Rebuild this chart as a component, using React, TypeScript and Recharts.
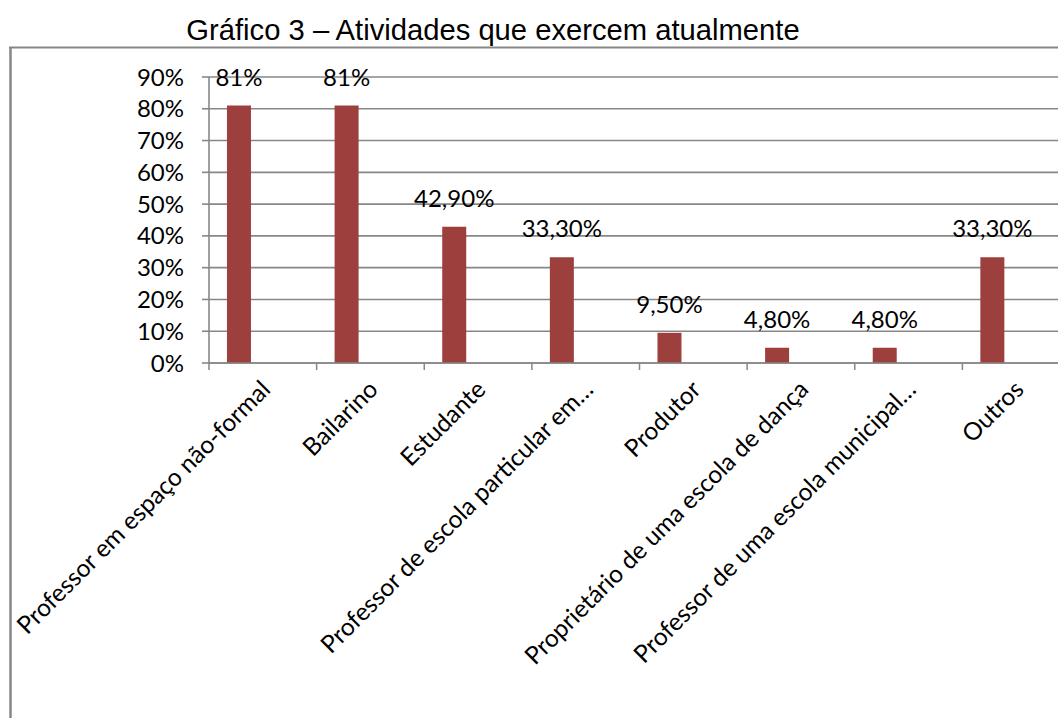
import React from 'react';
import { Bar, BarChart, CartesianGrid, LabelList, XAxis, YAxis } from 'recharts';

const categories = [
  'Professor em espaço não-formal',
  'Bailarino',
  'Estudante',
  'Professor de escola particular em…',
  'Produtor',
  'Proprietário de uma escola de dança',
  'Professor de uma escola municipal…',
  'Outros',
];
const values = [81, 81, 42.9, 33.3, 9.5, 4.8, 4.8, 33.3];
const valueLabels = ['81%', '81%', '42,90%', '33,30%', '9,50%', '4,80%', '4,80%', '33,30%'];
const yTicks = [0, 10, 20, 30, 40, 50, 60, 70, 80, 90];
const title = 'Gráfico 3 – Atividades que exercem atualmente';

const data = categories.map((name, i) => ({ name, value: values[i], label: valueLabels[i] }));

const W = 1100;
const H = 718;
const margin = { top: 77, right: 30, bottom: 55, left: 149 };
const yWidth = 60;
const bandW = (W - margin.left - yWidth - margin.right) / categories.length;

const grey = '#878787';
const barColor = '#9d3f3c';
const labelFont = 'Lato, "Open Sans", sans-serif';

const CategoryTick = (props: any) => {
  const { x, y, payload } = props;
  const ax = x + 9;
  const ay = y + 28;
  return (
    <g>
      <line x1={x - bandW / 2} x2={x - bandW / 2} y1={y} y2={y + 7} stroke={grey} strokeWidth={1.5} />
      <text
        x={ax}
        y={ay}
        textAnchor="end"
        transform={`rotate(-45 ${ax} ${ay})`}
        fontSize={24.5}
        fontFamily={labelFont}
        fill="#000"
      >
        {payload.value}
      </text>
    </g>
  );
};

export default function App() {
  return (
    <div style={{ position: 'fixed', left: 0, top: 0, width: 1058, height: 718, overflow: 'hidden', background: '#fff' }}>
      <BarChart width={W} height={H} data={data} margin={margin} barCategoryGap="16.7%" barGap={0}>
        <CartesianGrid vertical={false} stroke={grey} strokeWidth={1.6} />
        <XAxis
          dataKey="name"
          height={300}
          interval={0}
          tickLine={false}
          tickSize={0}
          tickMargin={0}
          axisLine={{ stroke: grey, strokeWidth: 1.6 }}
          tick={<CategoryTick />}
        />
        <YAxis
          domain={[0, 90]}
          ticks={yTicks}
          interval={0}
          width={yWidth}
          tickSize={7}
          tickMargin={18}
          tickFormatter={(v: number) => `${v}%`}
          axisLine={{ stroke: grey, strokeWidth: 1.6 }}
          tickLine={{ stroke: grey, strokeWidth: 1.6 }}
          tick={{ fill: '#000', fontSize: 24, fontFamily: labelFont }}
        />
        <Bar dataKey="value" fill={barColor} isAnimationActive={false}>
          <LabelList dataKey="label" position="top" offset={20} fill="#000" fontSize={24} fontFamily={labelFont} />
        </Bar>
        <Bar dataKey="blank1" fill={barColor} isAnimationActive={false} />
        <Bar dataKey="blank2" fill={barColor} isAnimationActive={false} />
      </BarChart>
      <svg width={1058} height={718} style={{ position: 'absolute', left: 0, top: 0, pointerEvents: 'none' }}>
        <line x1={9} x2={1058} y1={47.5} y2={47.5} stroke={grey} strokeWidth={2} />
        <line x1={10.5} x2={10.5} y1={47} y2={718} stroke={grey} strokeWidth={2.5} />
        <text x={493} y={40} textAnchor="middle" fontSize={29.2} fontFamily='"Liberation Sans", Arial, sans-serif' fill="#000">
          {title}
        </text>
      </svg>
    </div>
  );
}
